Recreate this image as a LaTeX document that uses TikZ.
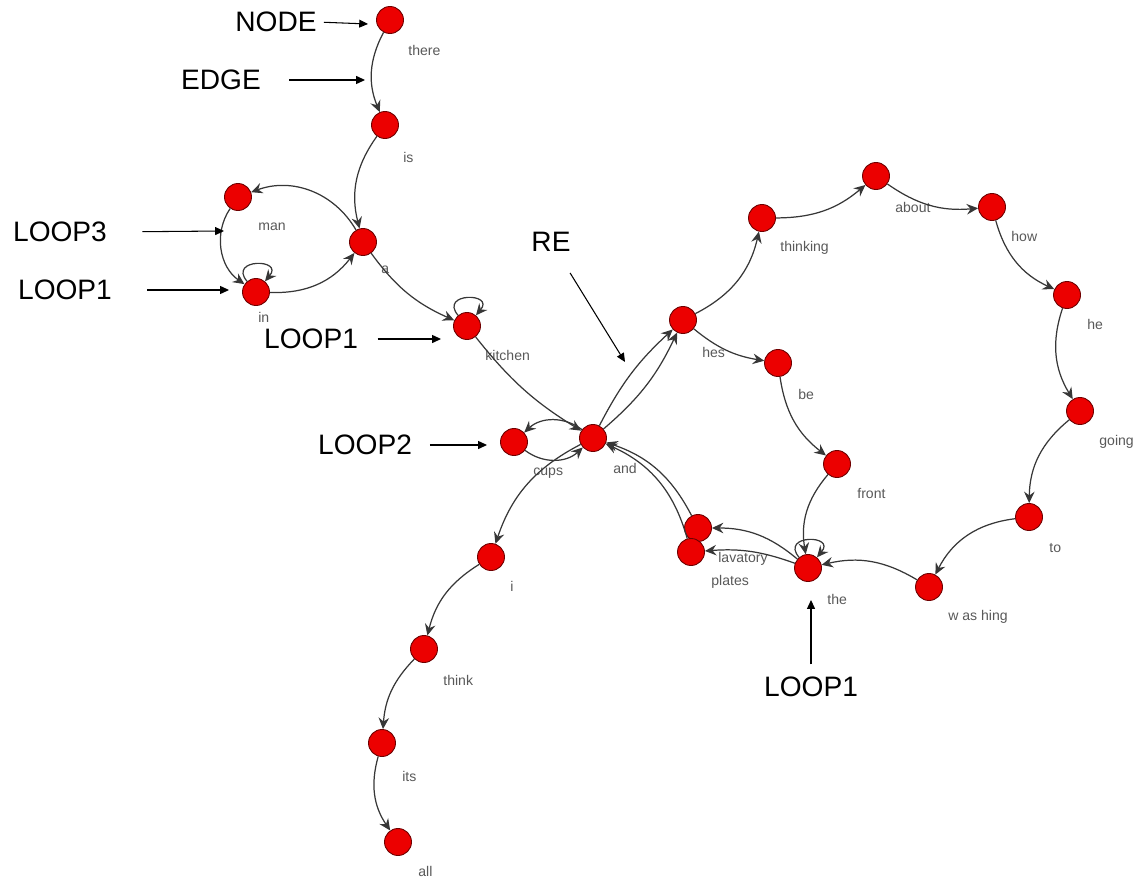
\documentclass[tikz,border=0pt]{standalone}
\usepackage{fontspec}
\setmainfont{Liberation Sans}
\usetikzlibrary{arrows.meta}
\definecolor{nodered}{RGB}{236,0,0}
\definecolor{rimred}{RGB}{110,0,0}
\definecolor{edgegray}{RGB}{55,55,55}
\tikzset{
        word/.style={circle, draw=rimred, line width=0.5pt, fill=nodered, minimum size=0.54cm, inner sep=0pt},
        tag/.style={anchor=west, inner sep=0pt, text=black!65, font=\fontsize{8}{9}\selectfont},
        callout/.style={inner sep=0pt, text=black, font=\fontsize{16}{18}\selectfont},
        link/.style={draw=edgegray, line width=0.7pt, -{Stealth[length=6.5pt, width=6pt, inset=2.2pt]}},
        selfloop/.style={link, out=130, in=50, looseness=4.3},
        pointer/.style={draw=black, line width=0.6pt, -{Triangle[length=5pt, width=4.5pt]}}
          }
\begin{document}
\begin{tikzpicture}[x=0.02cm, y=-0.02cm]
        \useasboundingbox (0,0) rectangle (1141,878);
        \node[word] (there) at (390,20) {};
        \node[word] (is) at (385,125) {};
        \node[word] (a) at (363,242) {};
        \node[word] (man) at (238,197) {};
        \node[word] (in) at (256,292) {};
        \node[word] (kitchen) at (467,326) {};
        \node[word] (and) at (593,438) {};
        \node[word] (cups) at (514,442) {};
        \node[word] (i) at (491,557) {};
        \node[word] (think) at (424,649) {};
        \node[word] (its) at (382,743) {};
        \node[word] (all) at (398,842) {};
        \node[word] (hes) at (683,320) {};
        \node[word] (thinking) at (762,218) {};
        \node[word] (about) at (876,176) {};
        \node[word] (how) at (992,207) {};
        \node[word] (he) at (1067,295) {};
        \node[word] (going) at (1080,411) {};
        \node[word] (to) at (1029,517) {};
        \node[word] (washing) at (929,587) {};
        \node[word] (the) at (808,568) {};
        \node[word] (be) at (778,363) {};
        \node[word] (front) at (837,464) {};
        \node[word] (lavatory) at (698,528) {};
        \node[word] (plates) at (691,552) {};

        \node[tag] (there-t) at (408,50) {there};
        \node[tag] (is-t) at (403,157) {is};
        \node[tag] (a-t) at (381,270) {a};
        \node[tag] (man-t) at (258,227) {man};
        \node[tag] (in-t) at (258,317) {in};
        \node[tag] (kitchen-t) at (485,355) {kitchen};
        \node[tag] (and-t) at (613,468) {and};
        \node[tag] (cups-t) at (533,473) {cups};
        \node[tag] (i-t) at (510,586) {i};
        \node[tag] (think-t) at (443,680) {think};
        \node[tag] (its-t) at (402,776) {its};
        \node[tag] (all-t) at (418,871) {all};
        \node[tag] (hes-t) at (702,352) {hes};
        \node[tag] (thinking-t) at (780,248) {thinking};
        \node[tag] (about-t) at (895,207) {about};
        \node[tag] (how-t) at (1011,236) {how};
        \node[tag] (he-t) at (1087,324) {he};
        \node[tag] (going-t) at (1099,442) {going};
        \node[tag] (to-t) at (1049,548) {to};
        \node[tag] (washing-t) at (948,617) {w as hing};
        \node[tag] (the-t) at (827,599) {the};
        \node[tag] (be-t) at (798,394) {be};
        \node[tag] (front-t) at (857,493) {front};
        \node[tag] (lavatory-t) at (718,559) {lavatory};
        \node[tag] (plates-t) at (711,582) {plates};

        \draw[link] (there) to[bend right=25] (is);
        \draw[link] (is) to[bend right=25] (a);
        \draw[link] (a) to[bend right=40] (man);
        \draw[link] (man) to[bend right=45] (in);
        \draw[link] (in) to[bend right=27] (a);
        \draw[selfloop] (in) to (in);
        \draw[link] (a) to[bend right=15] (kitchen);
        \draw[selfloop] (kitchen) to (kitchen);
        \draw[link] (kitchen) to[bend right=10] (and);
        \draw[link] (and) to[bend right=40] (cups);
        \draw[link] (cups) to[bend right=40] (and);
        \draw[link] (and) to[bend left=10] (hes);
        \draw[link] (and) to[bend right=12] (hes);
        \draw[link] (hes) to[bend right=25] (thinking);
        \draw[link] (thinking) to[bend right=20] (about);
        \draw[link] (about) to[bend right=20] (how);
        \draw[link] (how) to[bend right=25] (he);
        \draw[link] (he) to[bend right=25] (going);
        \draw[link] (going) to[bend right=25] (to);
        \draw[link] (to) to[bend right=28] (washing);
        \draw[link] (washing) to[bend right=22] (the);
        \draw[selfloop] (the) to (the);
        \draw[link] (hes) to[bend right=15] (be);
        \draw[link] (be) to[bend right=22] (front);
        \draw[link] (front) to[bend right=25] (the);
        \draw[link] (the) to[bend right=20] (lavatory);
        \draw[link] (the) to[bend right=12] (plates);
        \draw[link] (lavatory) to[bend right=22] (and);
        \draw[link] (plates) to[bend right=25] (and);
        \draw[link] (and) to[bend right=22] (i);
        \draw[link] (i) to[bend right=22] (think);
        \draw[link] (think) to[bend right=20] (its);
        \draw[link] (its) to[bend right=25] (all);

        \node[callout] (node-c) at (276,22) {NODE};
        \node[callout] (edge-c) at (221,80) {EDGE};
        \node[callout] (loop3-c) at (60,232) {LOOP3};
        \node[callout] (loop1a-c) at (65,290) {LOOP1};
        \node[callout] (loop1b-c) at (311,339) {LOOP1};
        \node[callout] (re-c) at (551,242) {RE};
        \node[callout] (loop2-c) at (365,445) {LOOP2};
        \node[callout] (loop1c-c) at (811,687) {LOOP1};
        \coordinate (node-p) at (368,24);
        \coordinate (edge-p) at (365,80);
        \coordinate (loop3-p) at (224,231);
        \coordinate (loop1a-p) at (229,290);
        \coordinate (loop1b-p) at (441,339);
        \coordinate (re-p) at (625,362);
        \coordinate (loop2-p) at (487,445);
        \coordinate (loop1c-p) at (811,600);
        \draw[pointer, shorten <=4pt] (node-c.east) -- (node-p);
        \draw[pointer, shorten <=16pt] (edge-c.east) -- (edge-p);
        \draw[pointer, shorten <=20pt] (loop3-c.east) -- (loop3-p);
        \draw[pointer, shorten <=20pt] (loop1a-c.east) -- (loop1a-p);
        \draw[pointer, shorten <=11pt] (loop1b-c.east) -- (loop1b-p);
        \draw[pointer, shorten <=14pt] (re-c) -- (re-p);
        \draw[pointer, shorten <=10pt] (loop2-c.east) -- (loop2-p);
        \draw[pointer, shorten <=7pt] (loop1c-c.north) -- (loop1c-p);
      \end{tikzpicture}
\end{document}
